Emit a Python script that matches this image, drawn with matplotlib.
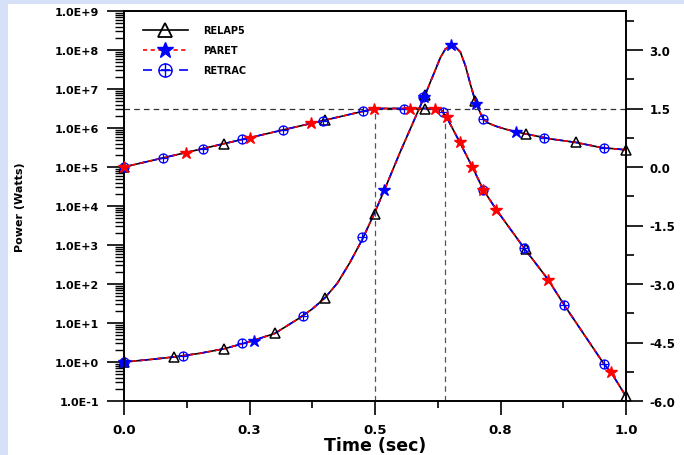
import numpy as np
import matplotlib
matplotlib.use("Agg")
import matplotlib.pyplot as plt
from matplotlib.path import Path
from matplotlib.patches import Rectangle
from matplotlib.lines import Line2D
from matplotlib.ticker import FixedLocator, LogLocator, FuncFormatter, MultipleLocator, NullFormatter

plt.rcParams['font.family'] = ['DejaVu Sans']
plt.rcParams['font.weight'] = 'bold'
plt.rcParams['lines.scale_dashes'] = False

# power curve (W) vs time (s), same for all three codes
power_t = [0, 0.05, 0.1, 0.15, 0.2, 0.25, 0.3, 0.35, 0.375, 0.4, 0.425, 0.45, 0.475, 0.5, 0.52, 0.55,
           0.6, 0.61, 0.62, 0.63, 0.64, 0.651, 0.66, 0.67, 0.68, 0.69, 0.70, 0.71, 0.716,
           0.725, 0.74, 0.76, 0.78, 0.8, 0.85, 0.9, 0.95, 1.0]
power_w = [1.0, 1.15, 1.35, 1.66, 2.19, 3.31, 5.37, 13.5, 22.9, 43.7, 105, 355, 1413, 7080, 2.82e4, 2.4e5,
           7.08e6, 1.48e7, 3.02e7, 6.31e7, 1.05e8, 1.32e8, 1.20e8, 8.91e7, 3.98e7, 1.32e7, 4.79e6,
           2.40e6, 1.70e6, 1.35e6, 1.12e6, 9.33e5, 8.04e5, 7.08e5, 5.25e5, 4.27e5, 3.16e5, 2.75e5]

# reactivity ($) vs time (s), right axis
rho_t = [0, 0.5, 0.63, 0.643, 0.669, 0.694, 0.716, 0.742, 0.797, 0.845, 0.877, 0.956, 0.97, 1.0]
rho = [0, 1.5, 1.5, 1.27, 0.63, 0.0, -0.59, -1.10, -2.08, -2.89, -3.54, -5.05, -5.26, -5.88]

# marker points of each code
relap_p_t = [0, 0.1, 0.2, 0.3, 0.4, 0.5, 0.6, 0.7, 0.8, 0.9, 1.0]
relap_p = [1.0, 1.35, 2.2, 5.4, 44, 6200, 7.1e6, 5.0e6, 7.1e5, 4.3e5, 2.75e5]
paret_p_t = [0, 0.258, 0.518, 0.598, 0.651, 0.702, 0.781]
paret_p = [1.0, 3.5, 2.6e4, 6.2e6, 1.32e8, 4.1e6, 8.0e5]
retrac_p_t = [0, 0.117, 0.236, 0.357, 0.475, 0.596, 0.716, 0.837, 0.956]
retrac_p = [1.0, 1.45, 3.0, 15.5, 1620, 6.2e6, 1.7e6, 5.5e5, 3.0e5]

relap_rho_t = [0, 0.2, 0.4, 0.6, 0.8, 1.0]
relap_rho = [0, 0.6, 1.2, 1.5, -2.1, -5.88]
paret_rho_t = [0, 0.124, 0.25, 0.372, 0.498, 0.57, 0.62, 0.643, 0.669, 0.694, 0.716, 0.742, 0.845, 0.97]
paret_rho = [0, 0.37, 0.75, 1.12, 1.5, 1.5, 1.5, 1.27, 0.63, 0.0, -0.59, -1.10, -2.89, -5.26]
retrac_rho_t = [0, 0.077, 0.157, 0.236, 0.316, 0.397, 0.477, 0.558, 0.636, 0.716, 0.797, 0.877, 0.956]
retrac_rho = [0, 0.23, 0.47, 0.71, 0.95, 1.19, 1.43, 1.5, 1.41, -0.59, -2.08, -3.54, -5.05]

# reference dashed lines
ref_rho = 1.5
ref_times = [0.5, 0.64]

x_ticks = [0, 0.25, 0.5, 0.75, 1.0]
x_tick_labels = ["0.0", "0.3", "0.5", "0.8", "1.0"]

# circle with a plus inside
oplus = Path.make_compound_path(
    Path.unit_circle(),
    Path([[-1, 0], [1, 0]], [Path.MOVETO, Path.LINETO]),
    Path([[0, -1], [0, 1]], [Path.MOVETO, Path.LINETO]),
)

fig = plt.figure(figsize=(6.84, 4.56), dpi=100, facecolor='#d6e0f6')
fig.patches.append(Rectangle((7.5 / 684, 0), 1, 1 - 5 / 456, transform=fig.transFigure,
                             facecolor='white', edgecolor='none', zorder=-5))
ax = fig.add_axes([124 / 684, 54 / 456, 502 / 684, 390 / 456])
ax2 = ax.twinx()

ax.set_yscale('log')
ax.set_ylim(1e-1, 1e9)
ax.set_xlim(0, 1.0)
ax2.set_ylim(-6, 4)

# dashed guides
ax2.axhline(ref_rho, color='#333333', lw=0.9, ls=(0, (4, 3)), zorder=1)
ax2.vlines(ref_times, -6, ref_rho, color='#555555', lw=0.9, linestyles=[(0, (4, 3))], zorder=1)

lw = 1.2
# RELAP5 solid black
ax.plot(power_t, power_w, color='black', lw=lw, zorder=2)
ax2.plot(rho_t, rho, color='black', lw=lw, zorder=2)
# RETRAC blue long dash
ax.plot(power_t, power_w, color='blue', lw=lw, ls=(0, (6, 5)), zorder=3)
ax2.plot(rho_t, rho, color='blue', lw=lw, ls=(0, (6, 5)), zorder=3)
# PARET red short dash
ax.plot(power_t, power_w, color='red', lw=lw, ls=(0, (3, 3)), zorder=4)
ax2.plot(rho_t, rho, color='red', lw=lw, ls=(0, (3, 3)), zorder=4)

# markers
ax.plot(relap_p_t, relap_p, ls='none', marker='^', ms=6.5, mfc='none', mec='black', mew=1.1, clip_on=False, zorder=5)
ax.plot(retrac_p_t, retrac_p, ls='none', marker=oplus, ms=6.5, mfc='none', mec='blue', mew=0.9, clip_on=False, zorder=5)
ax.plot(paret_p_t, paret_p, ls='none', marker='*', ms=9, color='blue', clip_on=False, zorder=6)
ax2.plot(relap_rho_t, relap_rho, ls='none', marker='^', ms=6.5, mfc='none', mec='black', mew=1.1, clip_on=False, zorder=5)
ax2.plot(retrac_rho_t, retrac_rho, ls='none', marker=oplus, ms=6.5, mfc='none', mec='blue', mew=0.9, clip_on=False, zorder=5)
ax2.plot(paret_rho_t, paret_rho, ls='none', marker='*', ms=9, color='red', clip_on=False, zorder=6)

# axes / ticks
for sp in ax.spines.values():
    sp.set_linewidth(1.2)
for sp in ax2.spines.values():
    sp.set_linewidth(1.2)

ax.xaxis.set_major_locator(FixedLocator(x_ticks))
ax.set_xticklabels(x_tick_labels)
ax.xaxis.set_minor_locator(MultipleLocator(0.125))
ax.tick_params(axis='x', which='major', direction='out', length=10, width=1.2, pad=6, labelsize=9.5)
ax.tick_params(axis='x', which='minor', direction='out', length=5, width=1.2)

ax.yaxis.set_major_locator(LogLocator(base=10, numticks=20))
ax.yaxis.set_minor_locator(LogLocator(base=10, subs=np.arange(2, 10), numticks=20))
ax.yaxis.set_minor_formatter(NullFormatter())
ax.yaxis.set_major_formatter(FuncFormatter(lambda v, p: "1.0E%+d" % int(round(np.log10(v)))))
ax.tick_params(axis='y', which='major', direction='out', length=12, width=1.2, pad=6, labelsize=8)
ax.tick_params(axis='y', which='minor', direction='out', length=6.5, width=1.0)

ax2.yaxis.set_major_locator(MultipleLocator(1.5))
ax2.yaxis.set_minor_locator(MultipleLocator(0.75))
ax2.yaxis.set_major_formatter(FuncFormatter(lambda v, p: "%.1f" % v))
ax2.tick_params(axis='y', which='major', direction='out', length=12, width=1.2, pad=5, labelsize=8.5)
ax2.tick_params(axis='y', which='minor', direction='out', length=6, width=1.2)

ax.set_xlabel("Time (sec)", fontsize=12.5, fontweight='bold')
ax.xaxis.set_label_coords(0.5, -0.089)
ax.set_ylabel("Power (Watts)", fontsize=8, fontweight='bold')
ax.yaxis.set_label_coords(-0.197, 0.5)

# legend
handles = [
    Line2D([], [], color='black', lw=lw, marker='^', ms=10, mfc='none', mec='black', mew=1.3),
    Line2D([], [], color='red', lw=lw, ls=(0, (3, 2.5)), marker='*', ms=12, mfc='blue', mec='blue'),
    Line2D([], [], color='blue', lw=lw, ls=(0, (6.5, 6.5)), marker=oplus, ms=9.5, mfc='none', mec='blue', mew=1.0),
]
ax2.legend(handles, ["RELAP5", "PARET", "RETRAC"], loc='upper left', bbox_to_anchor=(0.037, 0.963),
           frameon=False, prop={'weight': 'bold', 'size': 7}, handlelength=4.7, handletextpad=1.5,
           labelspacing=1.02, borderpad=0, borderaxespad=0)

fig.savefig("out.png", dpi=100, facecolor=fig.get_facecolor())
